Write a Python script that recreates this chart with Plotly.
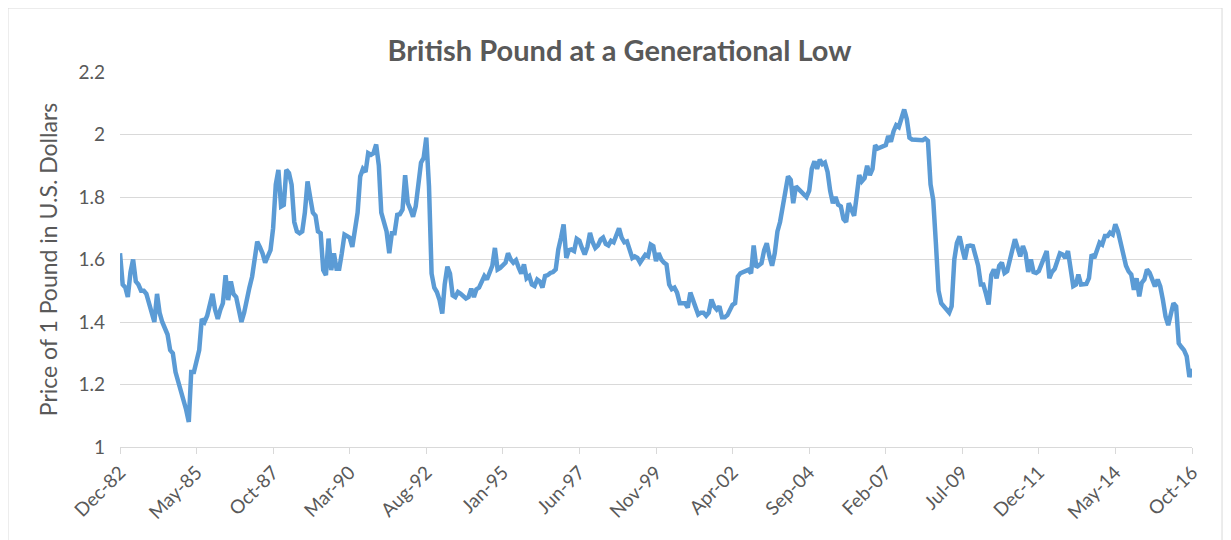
import pandas as pd
import plotly.graph_objects as go

# Monthly GBP/USD values (Dec-1982 .. Oct-2016)
start_month = "1982-12-01"
v1982 = [1.62]
v1983 = [1.52, 1.51, 1.48, 1.56, 1.60, 1.53, 1.52, 1.50, 1.50, 1.49, 1.46, 1.44]
v1984 = [1.40, 1.49, 1.43, 1.40, 1.38, 1.36, 1.31, 1.30, 1.24, 1.21, 1.19, 1.15]
v1985 = [1.12, 1.08, 1.24, 1.24, 1.28, 1.31, 1.41, 1.40, 1.42, 1.45, 1.49, 1.44]
v1986 = [1.41, 1.44, 1.46, 1.55, 1.47, 1.53, 1.49, 1.48, 1.44, 1.40, 1.43, 1.48]
v1987 = [1.51, 1.545, 1.60, 1.657, 1.64, 1.62, 1.59, 1.61, 1.63, 1.70, 1.84, 1.887]
v1988 = [1.77, 1.775, 1.887, 1.877, 1.84, 1.72, 1.69, 1.684, 1.69, 1.75, 1.85, 1.80]
v1989 = [1.75, 1.74, 1.69, 1.684, 1.566, 1.55, 1.667, 1.566, 1.62, 1.57, 1.57, 1.62]
v1990 = [1.68, 1.675, 1.67, 1.64, 1.70, 1.75, 1.866, 1.89, 1.88, 1.94, 1.935, 1.94]
v1991 = [1.968, 1.90, 1.75, 1.72, 1.69, 1.62, 1.684, 1.684, 1.743, 1.745, 1.76, 1.87]
v1992 = [1.78, 1.76, 1.737, 1.77, 1.83, 1.91, 1.925, 1.99, 1.834, 1.555, 1.51, 1.496]
v1993 = [1.47, 1.427, 1.52, 1.577, 1.555, 1.485, 1.48, 1.496, 1.49, 1.48, 1.475, 1.48]
v1994 = [1.507, 1.48, 1.504, 1.51, 1.525, 1.547, 1.536, 1.56, 1.58, 1.637, 1.568, 1.573]
v1995 = [1.58, 1.59, 1.62, 1.60, 1.59, 1.598, 1.575, 1.555, 1.584, 1.54, 1.547, 1.52]
v1996 = [1.515, 1.536, 1.53, 1.51, 1.547, 1.55, 1.557, 1.56, 1.568, 1.632, 1.67, 1.712]
v1997 = [1.605, 1.63, 1.632, 1.627, 1.666, 1.66, 1.637, 1.616, 1.64, 1.685, 1.655, 1.637]
v1998 = [1.645, 1.664, 1.67, 1.65, 1.645, 1.66, 1.655, 1.68, 1.70, 1.67, 1.655, 1.658]
v1999 = [1.625, 1.605, 1.61, 1.605, 1.59, 1.60, 1.615, 1.61, 1.648, 1.643, 1.595, 1.62]
v2000 = [1.60, 1.59, 1.584, 1.52, 1.505, 1.51, 1.494, 1.46, 1.46, 1.46, 1.446, 1.494]
v2001 = [1.47, 1.44, 1.424, 1.43, 1.43, 1.42, 1.43, 1.472, 1.45, 1.44, 1.45, 1.415]
v2002 = [1.415, 1.422, 1.44, 1.455, 1.46, 1.545, 1.556, 1.56, 1.565, 1.567, 1.556, 1.645]
v2003 = [1.575, 1.58, 1.588, 1.63, 1.652, 1.61, 1.58, 1.62, 1.69, 1.72, 1.77, 1.81]
v2004 = [1.866, 1.855, 1.78, 1.834, 1.825, 1.818, 1.81, 1.80, 1.82, 1.89, 1.914, 1.89]
v2005 = [1.92, 1.905, 1.91, 1.88, 1.82, 1.78, 1.80, 1.775, 1.77, 1.73, 1.72, 1.78]
v2006 = [1.76, 1.74, 1.80, 1.87, 1.85, 1.86, 1.90, 1.87, 1.89, 1.966, 1.955, 1.958]
v2007 = [1.96, 1.966, 1.995, 1.977, 2.01, 2.03, 2.024, 2.05, 2.08, 2.05, 1.99, 1.984]
v2008 = [1.984, 1.982, 1.982, 1.982, 1.987, 1.98, 1.84, 1.79, 1.65, 1.50, 1.46, 1.45]
v2009 = [1.44, 1.43, 1.45, 1.60, 1.653, 1.674, 1.635, 1.60, 1.643, 1.645, 1.643, 1.61]
v2010 = [1.58, 1.52, 1.52, 1.49, 1.456, 1.55, 1.568, 1.54, 1.58, 1.59, 1.557, 1.563]
v2011 = [1.60, 1.627, 1.665, 1.637, 1.61, 1.643, 1.62, 1.56, 1.60, 1.56, 1.557, 1.563]
v2012 = [1.584, 1.605, 1.627, 1.54, 1.56, 1.57, 1.60, 1.62, 1.616, 1.605, 1.627, 1.568]
v2013 = [1.515, 1.52, 1.552, 1.52, 1.52, 1.522, 1.54, 1.616, 1.605, 1.632, 1.654, 1.648]
v2014 = [1.675, 1.675, 1.686, 1.68, 1.713, 1.69, 1.655, 1.61, 1.58, 1.562, 1.552, 1.503]
v2015 = [1.54, 1.482, 1.525, 1.536, 1.568, 1.557, 1.53, 1.514, 1.536, 1.514, 1.47, 1.418]
v2016 = [1.39, 1.428, 1.46, 1.45, 1.332, 1.32, 1.31, 1.29, 1.224, 1.25]

values = (v1982 + v1983 + v1984 + v1985 + v1986 + v1987 + v1988 + v1989 + v1990
          + v1991 + v1992 + v1993 + v1994 + v1995 + v1996 + v1997 + v1998 + v1999
          + v2000 + v2001 + v2002 + v2003 + v2004 + v2005 + v2006 + v2007 + v2008
          + v2009 + v2010 + v2011 + v2012 + v2013 + v2014 + v2015 + v2016)

months = pd.date_range(start_month, periods=len(values), freq="MS")

tick_dates = ["1982-12-01", "1985-05-01", "1987-10-01", "1990-03-01", "1992-08-01",
              "1995-01-01", "1997-06-01", "1999-11-01", "2002-04-01", "2004-09-01",
              "2007-02-01", "2009-07-01", "2011-12-01", "2014-05-01", "2016-10-01"]
tick_labels = ["Dec-82", "May-85", "Oct-87", "Mar-90", "Aug-92", "Jan-95", "Jun-97",
               "Nov-99", "Apr-02", "Sep-04", "Feb-07", "Jul-09", "Dec-11", "May-14",
               "Oct-16"]

title_text = "British Pound at a Generational Low"
y_title = "Price of 1 Pound in U.S. Dollars"

fig = go.Figure()
fig.add_trace(go.Scatter(
    x=months, y=values, mode="lines",
    line=dict(color="#5B9BD5", width=4.5),
    hoverinfo="x+y", showlegend=False,
))

font_family = "Lato, 'Open Sans', sans-serif"
fig.update_layout(
    width=1223, height=532,
    paper_bgcolor="white", plot_bgcolor="white",
    margin=dict(l=112, r=39, t=64, b=93),
    title=dict(text="<b>" + title_text + "</b>", x=0.5, xanchor="center",
               y=0.92, yanchor="middle",
               font=dict(family=font_family, size=29, color="#595959")),
    font=dict(family=font_family, color="#595959"),
    xaxis=dict(
        range=[months[0], months[-1]],
        tickvals=pd.to_datetime(tick_dates), ticktext=tick_labels,
        tickangle=-45, tickfont=dict(size=19, color="#595959"),
        showgrid=False, showline=True, linecolor="#d9d9d9", linewidth=1,
        ticks="outside", ticklen=6, tickcolor="#d9d9d9",
        zeroline=False,
    ),
    yaxis=dict(
        range=[1, 2.2], dtick=0.2, tick0=1,
        tickfont=dict(size=19, color="#595959"),
        showgrid=True, gridcolor="#d9d9d9", gridwidth=1,
        zeroline=False, showline=False, ticks="", ticklabelstandoff=14,
        title=dict(text=y_title, font=dict(size=23, color="#595959"), standoff=14),
    ),
    shapes=[dict(type="rect", xref="paper", yref="paper",
                 x0=-0.1045, x1=1.028, y0=-0.35, y1=1.1707,
                 line=dict(color="#d9d9d9", width=1), fillcolor="rgba(0,0,0,0)",
                 layer="below")],
)

fig.write_html("out.html")
